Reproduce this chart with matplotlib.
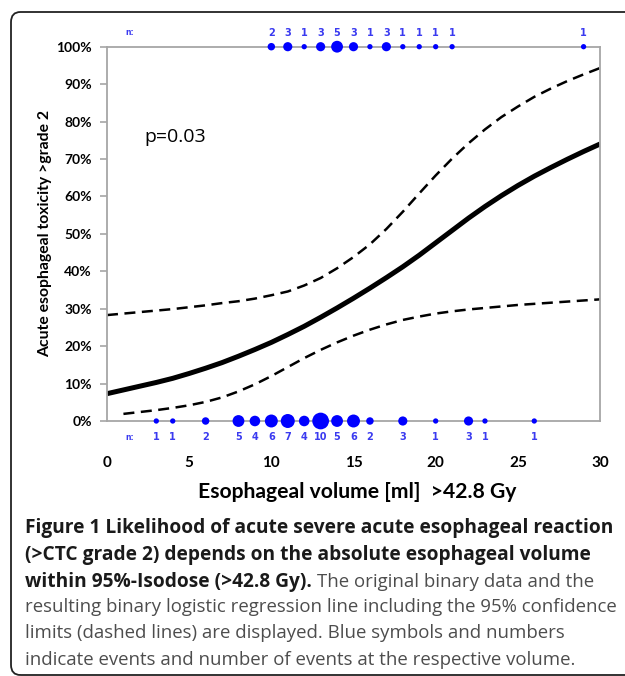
import matplotlib
matplotlib.use("Agg")
import matplotlib.pyplot as plt
from matplotlib.patches import FancyBboxPatch
import numpy as np

# events (y = 100%) and non-events (y = 0%) with counts
top_x = [10, 11, 12, 13, 14, 15, 16, 17, 18, 19, 20, 21, 29]
top_n = [2, 3, 1, 3, 5, 3, 1, 3, 1, 1, 1, 1, 1]
bot_x = [3, 4, 6, 8, 9, 10, 11, 12, 13, 14, 15, 16, 18, 20, 22, 23, 26]
bot_n = [1, 1, 2, 5, 4, 6, 7, 4, 10, 5, 6, 2, 3, 1, 3, 1, 1]

# regression line and 95% limits (fraction)
fit_x = list(range(0, 31))
fit_y = [0.073, 0.083, 0.093, 0.103, 0.114, 0.127, 0.141, 0.156, 0.173, 0.191,
         0.210, 0.231, 0.253, 0.277, 0.302, 0.328, 0.355, 0.383, 0.412, 0.443,
         0.476, 0.509, 0.542, 0.573, 0.602, 0.629, 0.654, 0.677, 0.699, 0.720, 0.740]
upper_y = [0.283, 0.287, 0.291, 0.295, 0.299, 0.304, 0.309, 0.315, 0.320, 0.327,
           0.336, 0.346, 0.362, 0.382, 0.408, 0.438, 0.472, 0.513, 0.559, 0.608,
           0.656, 0.701, 0.742, 0.779, 0.812, 0.840, 0.866, 0.888, 0.908, 0.926, 0.943]
low_x = list(range(1, 31))
lower_y = [0.019, 0.024, 0.029, 0.035, 0.042, 0.051, 0.063, 0.079, 0.098, 0.120,
           0.144, 0.168, 0.190, 0.210, 0.228, 0.244, 0.258, 0.270, 0.279, 0.287,
           0.293, 0.298, 0.302, 0.306, 0.310, 0.313, 0.316, 0.319, 0.322, 0.325]

xticks = [0, 5, 10, 15, 20, 25, 30]
yticks = [0, 0.1, 0.2, 0.3, 0.4, 0.5, 0.6, 0.7, 0.8, 0.9, 1.0]
ytick_labels = ["0%", "10%", "20%", "30%", "40%", "50%", "60%", "70%", "80%", "90%", "100%"]

W, H = 625, 676
fig = plt.figure(figsize=(W / 100, H / 100), dpi=100)

# rounded frame round the whole figure
frame = FancyBboxPatch((11 / W, 1 / H), 700 / W, (H - 13) / H,
                       boxstyle="round,pad=0,rounding_size=0.015",
                       transform=fig.transFigure, fill=False,
                       edgecolor="#222222", linewidth=1.3)
fig.patches.append(frame)

ax = fig.add_axes([107 / W, 255 / H, 493 / W, 374.3 / H])
ax.set_xlim(0, 30)
ax.set_ylim(0, 1)

grey = "#a6a6a6"
for s in ax.spines.values():
    s.set_color(grey)
    s.set_linewidth(1.3)

blue = "#0000ff"
ax.scatter(top_x, [1] * len(top_x), s=[14.5 * n for n in top_n], color=blue,
           clip_on=False, zorder=5, linewidths=0)
ax.scatter(bot_x, [0] * len(bot_x), s=[14.5 * n for n in bot_n], color=blue,
           clip_on=False, zorder=5, linewidths=0)

ax.plot(fit_x, fit_y, color="black", linewidth=3.6, solid_capstyle="butt")
ax.plot(fit_x, upper_y, color="black", linewidth=1.8, linestyle=(0, (4.4, 2.6)))
ax.plot(low_x, lower_y, color="black", linewidth=1.8, linestyle=(0, (4.4, 2.6)))

# counts above / below
num_col = "#3a3af0"
for x, n in zip(top_x, top_n):
    ax.text(x, 1.0 + 14 / 374.3, str(n), ha="center", va="center", fontsize=7,
            fontweight="bold", color=num_col, family="DejaVu Sans")
for x, n in zip(bot_x, bot_n):
    ax.text(x, -16 / 374.3, str(n), ha="center", va="center", fontsize=7,
            fontweight="bold", color=num_col, family="DejaVu Sans")
ax.text(1.4, 1.0 + 14 / 374.3, "n:", ha="center", va="center", fontsize=5.5,
        fontweight="bold", color=num_col, family="DejaVu Sans")
ax.text(1.4, -16 / 374.3, "n:", ha="center", va="center", fontsize=5.5,
        fontweight="bold", color=num_col, family="DejaVu Sans")

ax.text(2.3, 0.76, "p=0.03", fontsize=14, family="Open Sans", va="center", ha="left")

ax.set_yticks(yticks)
ax.set_yticklabels(ytick_labels, fontsize=10, fontweight="bold", family="Lato")
ax.set_xticks(xticks)
ax.set_xticklabels([str(t) for t in xticks], fontsize=11, fontweight="bold", family="Lato")
ax.tick_params(axis="y", direction="out", length=5, color=grey, width=1.2, pad=6)
ax.tick_params(axis="x", length=0, pad=25)

ax.set_xlabel("Esophageal volume [ml]  >42.8 Gy", fontsize=15.2, fontweight="bold",
              family="Lato")
ax.xaxis.set_label_coords(0.508, -0.163)
ax.set_ylabel("Acute esophageal toxicity >grade 2", fontsize=11.3, fontweight="bold",
              family="Lato", labelpad=3)

# caption
cap_bold = "#1a1a1a"
cap_reg = "#4d4d4d"
cx = 25 / W
lines_y = [533, 560, 587, 612, 638, 665]
fsb = 13.8
fs = 13.45
fig.text(cx, 1 - lines_y[0] / H, "Figure 1 Likelihood of acute severe acute esophageal reaction",
         fontsize=fsb, fontweight="bold", family="Open Sans", color=cap_bold, va="baseline")
fig.text(cx, 1 - lines_y[1] / H, "(>CTC grade 2) depends on the absolute esophageal volume",
         fontsize=fsb, fontweight="bold", family="Open Sans", color=cap_bold, va="baseline")
t3 = fig.text(cx, 1 - lines_y[2] / H, "within 95%-Isodose (>42.8 Gy).",
              fontsize=fsb, fontweight="bold", family="Open Sans", color=cap_bold, va="baseline")
fig.canvas.draw()
bb = t3.get_window_extent()
fig.text(bb.x1 / W + 5 / W, 1 - lines_y[2] / H, "The original binary data and the",
         fontsize=fs, family="Open Sans", color=cap_reg, va="baseline")
fig.text(cx, 1 - lines_y[3] / H, "resulting binary logistic regression line including the 95% confidence",
         fontsize=fs, family="Open Sans", color=cap_reg, va="baseline")
fig.text(cx, 1 - lines_y[4] / H, "limits (dashed lines) are displayed. Blue symbols and numbers",
         fontsize=fs, family="Open Sans", color=cap_reg, va="baseline")
fig.text(cx, 1 - lines_y[5] / H, "indicate events and number of events at the respective volume.",
         fontsize=fs, family="Open Sans", color=cap_reg, va="baseline")

fig.savefig("out.png", dpi=100)
